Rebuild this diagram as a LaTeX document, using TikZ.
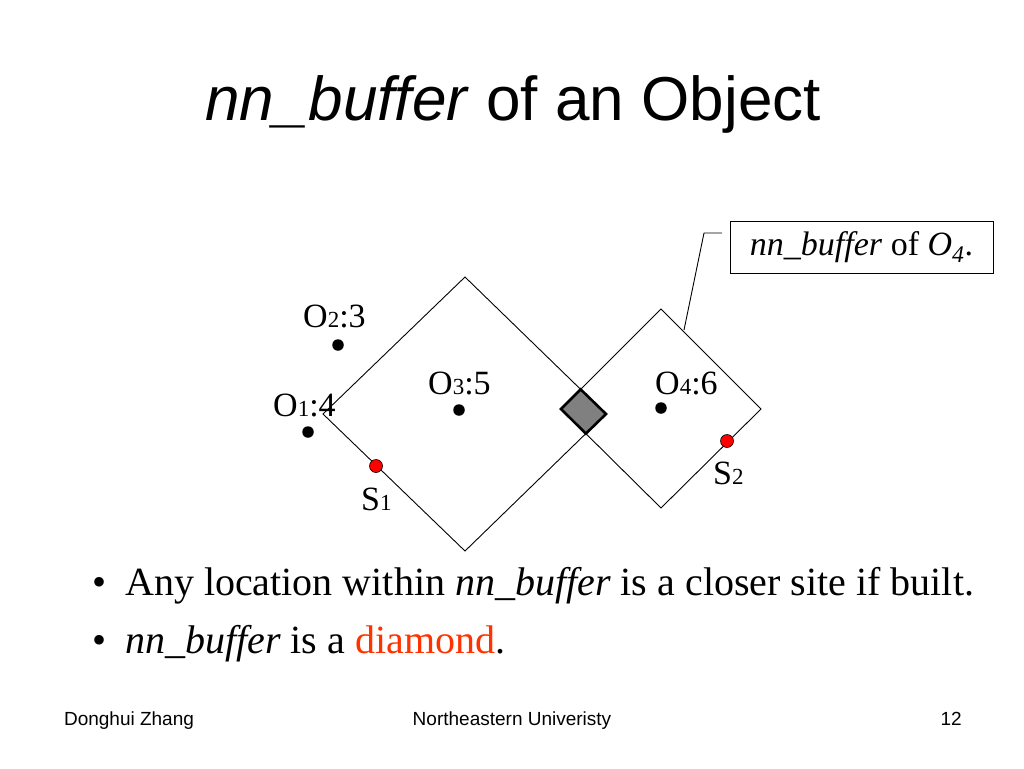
\documentclass[tikz,border=0pt]{standalone}
\usepackage{fontspec}
\setmainfont{Liberation Serif}
\newfontfamily\arialf{Liberation Sans}
\definecolor{hotred}{HTML}{FF3300}
\definecolor{dotred}{HTML}{FF0000}
\definecolor{sqgray}{HTML}{808080}
\newcommand\lblsz{\fontsize{34}{34}\selectfont}
\newcommand\subd[1]{{\fontsize{23}{23}\selectfont #1}}
\begin{document}
\begin{tikzpicture}[x=1pt,y=-1pt,
  edge/.style={draw=black,line width=0.9pt},
  obj/.style={circle,fill=black,inner sep=0pt,minimum size=11.5pt},
  site/.style={circle,fill=dotred,draw=black,line width=0.6pt,inner sep=0pt,minimum size=13pt},
  lbl/.style={anchor=base west,inner sep=0pt,font=\lblsz},
  bullet/.style={anchor=base west,inner sep=0pt,font=\fontsize{40}{40}\selectfont},
  foot/.style={anchor=base,inner sep=0pt,font=\arialf\fontsize{19}{19}\selectfont}]
\useasboundingbox (0,0) rectangle (1024,768);
\fill[white] (0,0) rectangle (1024,768);

% title
\node[anchor=base,inner sep=0pt,font=\arialf\fontsize{62}{62}\selectfont] (title) at (513,120) {\textit{nn\_buffer} of an Object};

% big diamond
\coordinate (bt) at (465,277);
\coordinate (bl) at (323,414);
\coordinate (bb) at (465,551);
\coordinate (br) at (606,414);
\draw[edge] (bt) -- (br) -- (bb) -- (bl) -- cycle;

% small diamond
\coordinate (st) at (661,309);
\coordinate (sr) at (761,409);
\coordinate (sb) at (661,508);
\coordinate (sl) at (561,409);
\draw[edge] (st) -- (sr) -- (sb) -- (sl) -- cycle;

% intersection square
\coordinate (it) at (intersection of bt--br and sl--st);
\coordinate (ib) at (intersection of br--bb and sl--sb);
\draw[fill=sqgray,line width=2.6pt,line join=miter] (sl) -- (it) -- (br) -- (ib) -- cycle;

% objects
\node[obj] (o2) at (338,345) {};
\node[obj] (o1) at (308,432) {};
\node[obj] (o3) at (459,410) {};
\node[obj] (o4) at (661,408) {};
\node[site] (s1) at (376,466) {};
\node[site] (s2) at (727,441) {};

\node[lbl] (lo2) at (303,327) {O\subd{2}:3};
\node[lbl] (lo1) at (273,416) {O\subd{1}:4};
\node[lbl] (lo3) at (428,394) {O\subd{3}:5};
\node[lbl] (lo4) at (655,394) {O\subd{4}:6};
\node[lbl] (ls1) at (361,510) {S\subd{1}};
\node[lbl] (ls2) at (713,484) {S\subd{2}};

% callout
\node[draw=black,line width=0.9pt,minimum width=263pt,minimum height=52pt,inner sep=0pt,font=\fontsize{34}{34}\selectfont] (call) at (861.5,247) {\textit{nn\_buffer} of \textit{O}\textsubscript{\textit{4}}.};
\coordinate (c1) at (722,233);
\coordinate (c2) at (704,233);
\coordinate (c3) at (684,330);
\draw[edge] (c1) -- (c2) -- (c3);

% bullets
\node[bullet] (b1d) at (92,595) {•};
\node[bullet] (b1) at (125,595) {Any location within \textit{nn\_buffer} is a closer site if built.};
\node[bullet] (b2d) at (92,653) {•};
\node[bullet] (b2) at (125,653) {\textit{nn\_buffer} is a \textcolor{hotred}{diamond}.};

% footer
\node[foot] (f1) at (129,725) {Donghui Zhang};
\node[foot] (f2) at (512,725) {Northeastern Univeristy};
\node[foot,anchor=base east] (f3) at (962,725) {12};
\end{tikzpicture}
\end{document}
